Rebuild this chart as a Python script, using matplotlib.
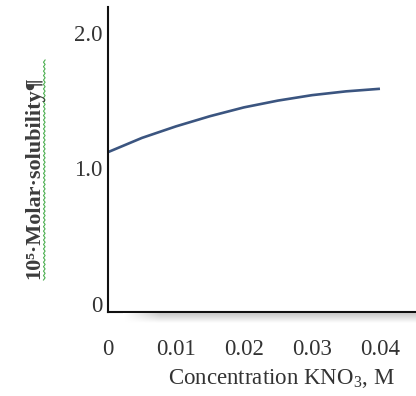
import numpy as np
import matplotlib
matplotlib.use("Agg")
import matplotlib.pyplot as plt
from matplotlib.lines import Line2D

# Data
conc = [0.0, 0.005, 0.01, 0.015, 0.02, 0.025, 0.03, 0.035, 0.04]
solubility = [1.12, 1.225, 1.31, 1.385, 1.45, 1.50, 1.54, 1.568, 1.587]
xticks = [0, 0.01, 0.02, 0.03, 0.04]
xtick_labels = ["0", "0.01", "0.02", "0.03", "0.04"]
yticks = [0, 1.0, 2.0]
ytick_labels = ["0", "1.0", "2.0"]

W, H = 416, 396
fig = plt.figure(figsize=(W / 100, H / 100), dpi=100)
serif = ["Liberation Serif", "DejaVu Serif"]
plt.rcParams["mathtext.fontset"] = "custom"
plt.rcParams["mathtext.rm"] = "Liberation Serif"

ax = fig.add_axes([108 / W, (H - 311.5) / H, (W - 108) / W, (311.5 - 7) / H])
ax.plot(conc, solubility, color="#3b5580", lw=1.9, solid_capstyle="butt")
ax.set_xlim(0, 0.0453)
ax.set_ylim(-0.055, 2.19)
for s in ("top", "right"):
    ax.spines[s].set_visible(False)
for s in ("left", "bottom"):
    ax.spines[s].set_linewidth(1.5)
    ax.spines[s].set_color("#111111")
ax.set_xticks(xticks)
ax.set_xticklabels(xtick_labels, family=serif, fontsize=16.5, color="#333333")
ax.set_yticks(yticks)
ax.set_yticklabels(ytick_labels, family=serif, fontsize=16.5, color="#333333")
ax.tick_params(axis="x", length=0, pad=20)
ax.tick_params(axis="y", length=0, pad=4)

# shadow under the bottom axis
sax = fig.add_axes([123 / W, (H - 323) / H, (W - 123) / W, 10 / H])
grad = np.linspace(0.78, 1.0, 50)[:, None] * np.ones((1, 200))
edge = np.clip(np.linspace(0, 8, 200), 0, 1)[None, :]
img = 1 - (1 - grad) * edge
sax.imshow(img, cmap="gray", vmin=0, vmax=1, aspect="auto", interpolation="bilinear")
sax.axis("off")

fig.text(281 / W, 1 - 378 / H, "Concentration KNO$_\\mathregular{3}$, M", family=serif,
         fontsize=16.5, color="#333333", ha="center", va="center")

fig.text(34 / W, 1 - 178 / H, "10⁵·Molar·solubility¶", family=serif,
         fontsize=16, fontweight="bold", color="#3c3c3c", rotation=90,
         ha="center", va="center")

# spell-check squiggle
ys = np.linspace(1 - 280 / H, 1 - 60 / H, 100)
xs = 43.5 / W + np.where(np.arange(100) % 2 == 0, 0, 1.6 / W)
fig.add_artist(Line2D(xs, ys, color="#4caf50", lw=0.8))

fig.savefig("out.png", dpi=100)
